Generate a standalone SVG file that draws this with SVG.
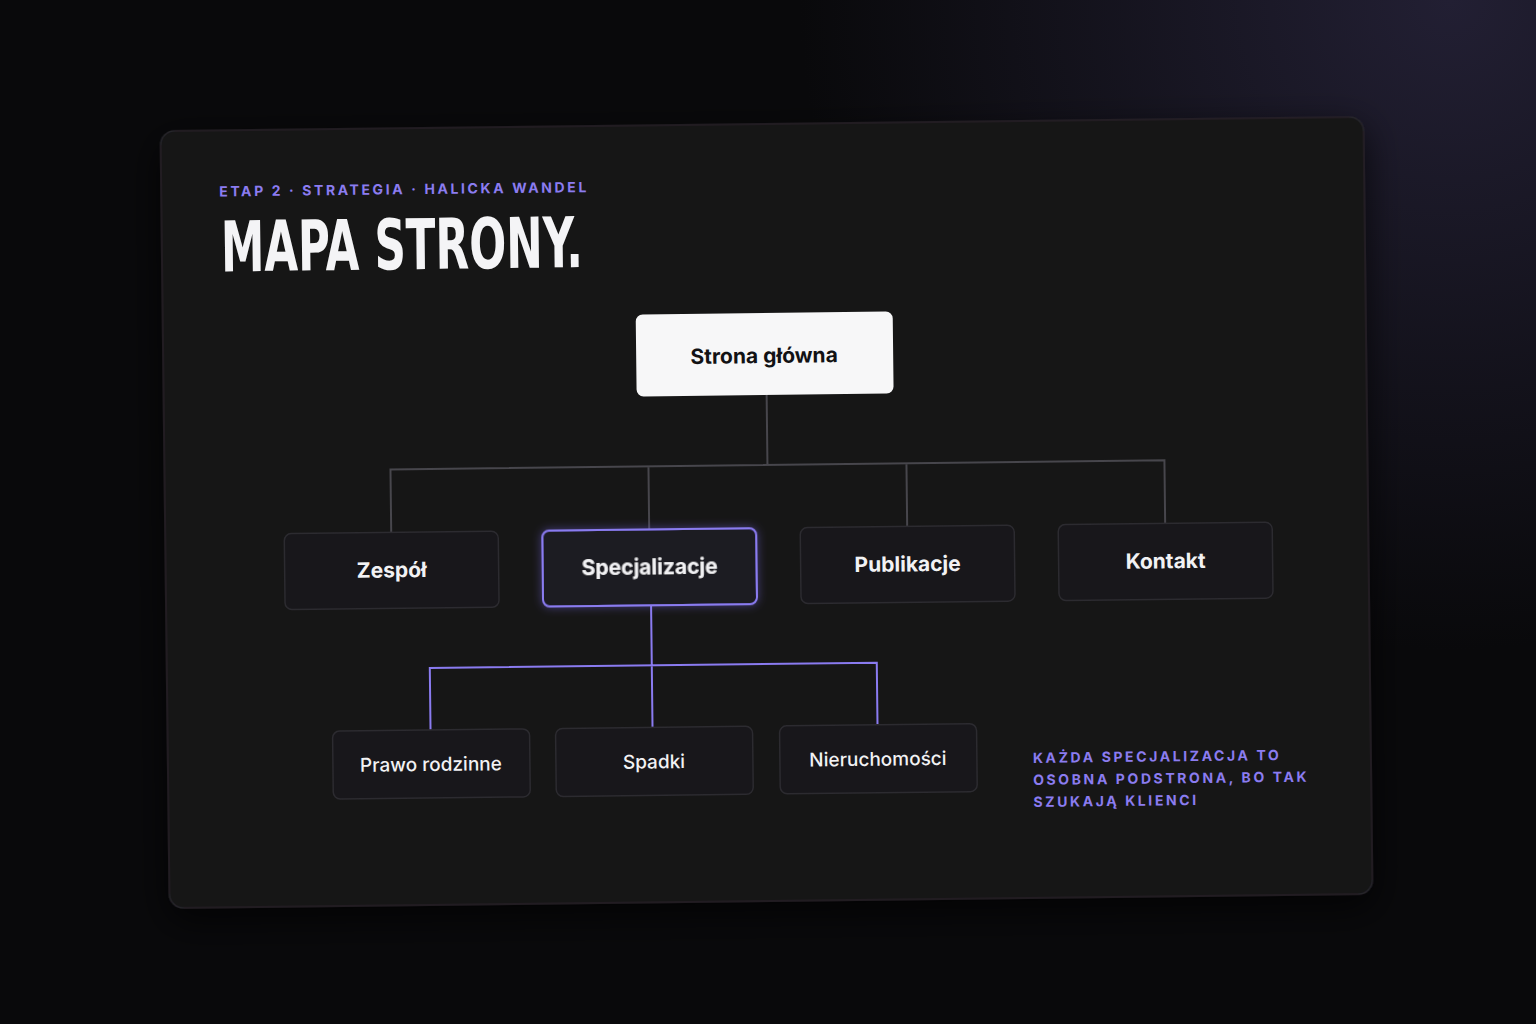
<svg xmlns="http://www.w3.org/2000/svg" width="1536" height="1024" viewBox="0 0 1536 1024">
<defs>
<radialGradient id="glow" cx="1450" cy="0" r="650" gradientUnits="userSpaceOnUse">
<stop offset="0" stop-color="#221f33"/><stop offset="1" stop-color="#09090b"/></radialGradient>
<filter id="sh" x="-10%" y="-10%" width="120%" height="130%"><feDropShadow dx="0" dy="12" stdDeviation="18" flood-color="#000" flood-opacity="0.7"/></filter>
<filter id="pg" x="-20%" y="-30%" width="140%" height="160%"><feDropShadow dx="0" dy="0" stdDeviation="5" flood-color="#7c6cf0" flood-opacity="0.45"/></filter>
<style>
.n{fill:#18171b;stroke:#2c2b30;stroke-width:1.5}
.t{font-family:Inter,"Liberation Sans",sans-serif;fill:#f2f2f4;text-anchor:middle}
.b{font-size:21px;font-weight:700}
.s{font-size:19px;font-weight:500}
.lab{font-family:Inter,"Liberation Sans",sans-serif;font-weight:700;font-size:14px;letter-spacing:2.6px;fill:#8b7cf0}
.g{fill:none;stroke:#47464c;stroke-width:2}
.p{fill:none;stroke:#8a7bf0;stroke-width:2}
</style>
</defs>
<rect width="1536" height="1024" fill="url(#glow)"/>
<g transform="rotate(-0.67 768 512)">
<rect x="165" y="124" width="1203" height="777" rx="14" fill="#141317" stroke="#26252a" stroke-width="1.5" filter="url(#sh)"/>
<text x="223" y="190" class="lab">ETAP 2 · STRATEGIA · HALICKA WANDEL</text>
<text x="224" y="265" font-family="'DejaVu Sans Condensed','Liberation Sans',sans-serif" font-weight="700" font-size="70" fill="#f4f4f6" textLength="362" lengthAdjust="spacingAndGlyphs">MAPA STRONY.</text>
<g id="connectors">
<path class="g" d="M768 393V465M391 528V465H1165V528M649 465V528M907 465V528"/>
<path class="p" d="M650 604V664M428 726V664H875V726M650 664V726"/>
</g>
<g id="home"><rect x="638" y="313" width="257" height="82" rx="7" fill="#f7f7f8"/><text x="766" y="363" class="t b" style="fill:#121214">Strona główna</text></g>
<g id="zespol"><rect class="n" x="284" y="528" width="214" height="76" rx="7"/><text x="391" y="573" class="t b">Zespół</text></g>
<g id="specjalizacje" filter="url(#pg)"><rect x="542" y="528" width="214" height="76" rx="7" fill="#1b1a22" stroke="#8a7bf0" stroke-width="2"/><text x="649" y="573" class="t b">Specjalizacje</text></g>
<g id="publikacje"><rect class="n" x="800" y="528" width="214" height="76" rx="7"/><text x="907" y="573" class="t b">Publikacje</text></g>
<g id="kontakt"><rect class="n" x="1058" y="528" width="214" height="76" rx="7"/><text x="1165" y="573" class="t b">Kontakt</text></g>
<g id="prawo"><rect class="n" x="330" y="726" width="197" height="68" rx="7"/><text x="428" y="767" class="t s">Prawo rodzinne</text></g>
<g id="spadki"><rect class="n" x="553" y="726" width="197" height="68" rx="7"/><text x="651" y="767" class="t s">Spadki</text></g>
<g id="nieruchomosci"><rect class="n" x="777" y="726" width="197" height="68" rx="7"/><text x="875" y="767" class="t s">Nieruchomości</text></g>
<g id="note" class="lab"><text x="1030" y="766">KAŻDA SPECJALIZACJA TO</text><text x="1030" y="788">OSOBNA PODSTRONA, BO TAK</text><text x="1030" y="810">SZUKAJĄ KLIENCI</text></g>
</g>
</svg>
